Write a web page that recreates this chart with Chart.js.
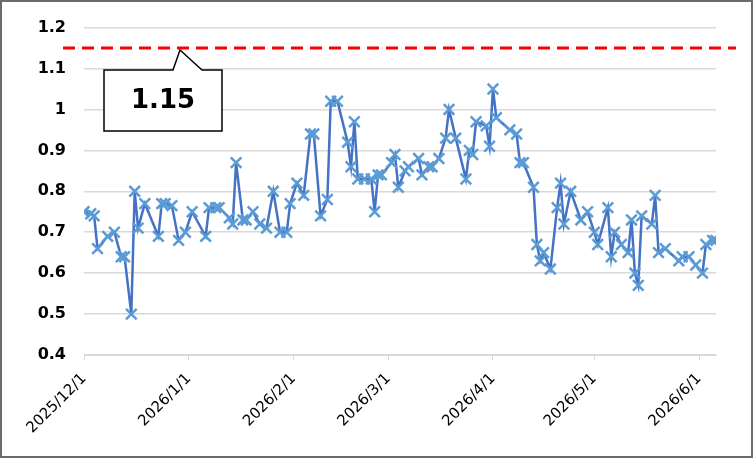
<!DOCTYPE html>
<html lang="ja">
<head>
  <meta charset="UTF-8">
  <title>推移</title>
  <script src="https://cdn.jsdelivr.net/npm/chart.js"></script>
  <style>
    body { margin: 0; background: #fff; }
    #wrap { width: 753px; height: 458px; }
  </style>
</head>
<body>
  <div id="wrap">
    <canvas id="chart" width="753" height="458"></canvas>
  </div>

  <script>
    // 日付と値
    const dates = [
      '2025/12/1', '2025/12/3', '2025/12/4', '2025/12/5', '2025/12/8', '2025/12/10', '2025/12/12', '2025/12/13',
      '2025/12/15', '2025/12/16', '2025/12/17', '2025/12/19', '2025/12/23', '2025/12/24', '2025/12/25', '2025/12/27',
      '2025/12/29', '2025/12/31', '2026/1/2', '2026/1/6', '2026/1/7', '2026/1/9', '2026/1/10', '2026/1/13',
      '2026/1/14', '2026/1/15', '2026/1/17', '2026/1/18', '2026/1/20', '2026/1/22', '2026/1/24', '2026/1/26',
      '2026/1/28', '2026/1/30', '2026/1/31', '2026/2/2', '2026/2/4', '2026/2/6', '2026/2/7', '2026/2/9',
      '2026/2/11', '2026/2/12', '2026/2/14', '2026/2/17', '2026/2/18', '2026/2/19', '2026/2/20', '2026/2/22',
      '2026/2/24', '2026/2/25', '2026/2/26', '2026/2/27', '2026/3/2', '2026/3/3', '2026/3/4', '2026/3/6',
      '2026/3/7', '2026/3/10', '2026/3/11', '2026/3/13', '2026/3/14', '2026/3/16', '2026/3/18', '2026/3/19',
      '2026/3/21', '2026/3/24', '2026/3/25', '2026/3/26', '2026/3/27', '2026/3/30', '2026/3/31', '2026/4/1',
      '2026/4/2', '2026/4/6', '2026/4/8', '2026/4/9', '2026/4/10', '2026/4/13', '2026/4/14', '2026/4/15',
      '2026/4/16', '2026/4/18', '2026/4/20', '2026/4/21', '2026/4/22', '2026/4/24', '2026/4/27', '2026/4/29',
      '2026/5/1', '2026/5/2', '2026/5/5', '2026/5/6', '2026/5/7', '2026/5/9', '2026/5/11', '2026/5/12',
      '2026/5/13', '2026/5/14', '2026/5/15', '2026/5/18', '2026/5/19', '2026/5/20', '2026/5/22', '2026/5/26',
      '2026/5/27', '2026/5/29', '2026/5/31', '2026/6/2', '2026/6/3', '2026/6/5', '2026/6/6'
    ];
    const values = [
      0.75, 0.745, 0.74, 0.66, 0.69, 0.70, 0.64, 0.64,
      0.50, 0.80, 0.71, 0.77, 0.69, 0.77, 0.77, 0.765,
      0.68, 0.70, 0.75, 0.69, 0.76, 0.76, 0.76, 0.735,
      0.72, 0.87, 0.73, 0.73, 0.75, 0.72, 0.71, 0.80,
      0.70, 0.70, 0.77, 0.82, 0.79, 0.94, 0.94, 0.74,
      0.78, 1.02, 1.02, 0.92, 0.86, 0.97, 0.83, 0.83,
      0.83, 0.75, 0.84, 0.84, 0.87, 0.89, 0.81, 0.85,
      0.86, 0.88, 0.84, 0.86, 0.86, 0.88, 0.93, 1.00,
      0.93, 0.83, 0.90, 0.89, 0.97, 0.96, 0.91, 1.05,
      0.98, 0.95, 0.94, 0.87, 0.87, 0.81, 0.67, 0.63,
      0.65, 0.61, 0.76, 0.82, 0.72, 0.80, 0.73, 0.75,
      0.70, 0.67, 0.76, 0.64, 0.70, 0.67, 0.65, 0.73,
      0.60, 0.57, 0.74, 0.72, 0.79, 0.65, 0.66, 0.63,
      0.64, 0.64, 0.62, 0.60, 0.67, 0.68, 0.68
    ];
    // 目盛り（月初）
    const monthTicks = ['2025/12/1', '2026/1/1', '2026/2/1', '2026/3/1', '2026/4/1', '2026/5/1', '2026/6/1'];
    const threshold = 1.15;
    const yMin = 0.4, yMax = 1.2;

    // 日付 -> 開始日からの日数
    const startDate = dates[0];
    function toDay(s) {
      const p = (x) => x.split('/').map(Number);
      const [y, m, d] = p(s);
      const [y0, m0, d0] = p(startDate);
      return (Date.UTC(y, m - 1, d) - Date.UTC(y0, m0 - 1, d0)) / 86400000;
    }
    function toLabel(day) {
      const [y0, m0, d0] = startDate.split('/').map(Number);
      const t = new Date(Date.UTC(y0, m0 - 1, d0) + day * 86400000);
      return t.getUTCFullYear() + '/' + (t.getUTCMonth() + 1) + '/' + t.getUTCDate();
    }

    const points = dates.map((d, i) => ({ x: toDay(d), y: values[i] }));
    const font = 'DejaVu Sans';

    // 基準線と吹き出し
    const thresholdPlugin = {
      id: 'threshold',
      afterDraw(chart) {
        const ctx = chart.ctx;
        const y = chart.scales.y.getPixelForValue(threshold);
        ctx.save();
        ctx.strokeStyle = '#ff0000';
        ctx.lineWidth = 3;
        ctx.setLineDash([12, 7]);
        ctx.beginPath();
        ctx.moveTo(63, y);
        ctx.lineTo(736, y);
        ctx.stroke();
        ctx.setLineDash([]);

        // 吹き出し
        const bx = 104, by = 70, bw = 118, bh = 61;
        ctx.beginPath();
        ctx.moveTo(bx, by);
        ctx.lineTo(173, by);
        ctx.lineTo(180, y + 2);
        ctx.lineTo(202, by);
        ctx.lineTo(bx + bw, by);
        ctx.lineTo(bx + bw, by + bh);
        ctx.lineTo(bx, by + bh);
        ctx.closePath();
        ctx.fillStyle = '#fff';
        ctx.fill();
        ctx.strokeStyle = '#000';
        ctx.lineWidth = 1.5;
        ctx.stroke();
        ctx.fillStyle = '#000';
        ctx.font = 'bold 26px "' + font + '"';
        ctx.textAlign = 'center';
        ctx.textBaseline = 'middle';
        ctx.fillText(String(threshold), bx + bw / 2, by + bh / 2 + 1);

        // 外枠
        ctx.strokeStyle = '#6b6b6b';
        ctx.lineWidth = 2;
        ctx.strokeRect(1, 1, chart.width - 2, chart.height - 2);
        ctx.restore();
      }
    };

    const ctx = document.getElementById('chart').getContext('2d');
    new Chart(ctx, {
      type: 'line',
      data: {
        datasets: [{
          data: points,
          borderColor: '#4472c4',
          borderWidth: 2.5,
          pointStyle: 'crossRot',
          pointRadius: 7.5,
          pointBorderWidth: 2.5,
          pointBorderColor: '#5b9bd5',
          pointBackgroundColor: '#5b9bd5',
          tension: 0
        }]
      },
      options: {
        responsive: false,
        animation: false,
        devicePixelRatio: 1,
        layout: { padding: { top: 18, right: 37, bottom: 0, left: 0 } },
        plugins: {
          legend: { display: false },
          tooltip: { enabled: false }
        },
        scales: {
          x: {
            type: 'linear',
            min: 0,
            max: toDay(dates[dates.length - 1]),
            afterBuildTicks: (s) => { s.ticks = monthTicks.map(m => ({ value: toDay(m) })); },
            afterFit: (s) => { s.height = 103; },
            grid: { display: true, drawOnChartArea: false, drawTicks: true, tickLength: 5, color: '#d9d9d9' },
            border: { display: true, color: '#d9d9d9', width: 1 },
            ticks: {
              autoSkip: false,
              minRotation: 45,
              maxRotation: 45,
              padding: 10,
              color: '#000',
              font: { family: font, size: 15 },
              callback: (v) => toLabel(v)
            }
          },
          y: {
            min: yMin,
            max: yMax,
            afterFit: (s) => { s.width = 84; },
            grid: {
              drawTicks: false,
              color: (c) => Math.round(c.tick.value * 100) % 10 === 0 ? '#d9d9d9' : '#f2f2f2',
              lineWidth: 1.5
            },
            border: { display: false },
            ticks: {
              stepSize: 0.05,
              padding: 18,
              color: '#000',
              font: { family: font, size: 16, weight: 'bold' },
              callback: (v) => Math.round(v * 100) % 10 === 0 ? String(Math.round(v * 10) / 10) : ''
            }
          }
        }
      },
      plugins: [thresholdPlugin]
    });
  </script>
</body>
</html>
